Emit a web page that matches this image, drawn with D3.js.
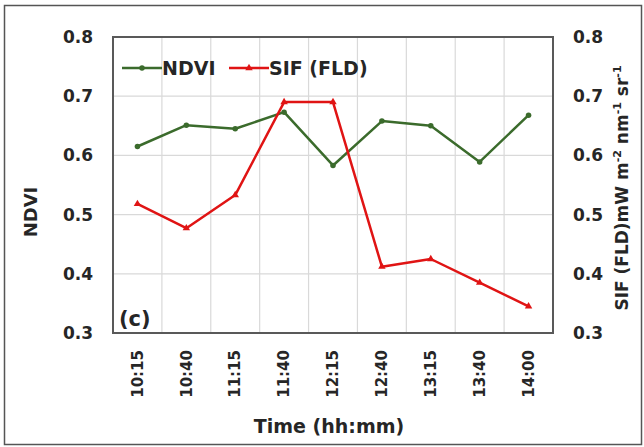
<!DOCTYPE html>
<html>
<head>
<meta charset="utf-8">
<script src="https://cdn.jsdelivr.net/npm/d3@7"></script>
<style>
  body { margin: 0; background: #fff; }
  svg { display: block; font-family: "DejaVu Sans", sans-serif; font-weight: bold; }
</style>
</head>
<body>
<div id="chart"></div>
<script>
// data
var times = ['10:15','10:40','11:15','11:40','12:15','12:40','13:15','13:40','14:00'];
var ndvi = [0.615, 0.651, 0.645, 0.673, 0.583, 0.658, 0.650, 0.589, 0.668];
var sif = [0.518, 0.477, 0.533, 0.690, 0.690, 0.412, 0.425, 0.385, 0.345];
var yTicks = [0.3, 0.4, 0.5, 0.6, 0.7, 0.8];

var w = 644, h = 447;
var m = {left: 113, right: 91, top: 37, bottom: 114};
var font = '"DejaVu Sans", sans-serif', ink = '#262626';

var svg = d3.select('#chart').append('svg').attr('width', w).attr('height', h);

// outer frame
svg.append('rect').attr('x', 4.5).attr('y', 5.5).attr('width', 637).attr('height', 439)
  .attr('fill', 'none').attr('stroke', '#555').attr('stroke-width', 1.5);

var x = d3.scaleBand().domain(times).range([m.left, w - m.right]);
var yL = d3.scaleLinear().domain([0.3, 0.8]).range([h - m.bottom, m.top]);
var yR = d3.scaleLinear().domain([0.3, 0.8]).range([h - m.bottom, m.top]);

// grid
var grid = svg.append('g').attr('stroke', '#d9d9d9').attr('stroke-width', 1.2);
grid.selectAll('.hg').data(yTicks).enter().append('line')
  .attr('x1', m.left).attr('x2', w - m.right)
  .attr('y1', function(d){ return yL(d); }).attr('y2', function(d){ return yL(d); });
grid.selectAll('.vg').data(times.slice(1)).enter().append('line')
  .attr('y1', m.top).attr('y2', h - m.bottom)
  .attr('x1', function(d){ return x(d); }).attr('x2', function(d){ return x(d); });

// plot border
svg.append('rect').attr('x', m.left).attr('y', m.top)
  .attr('width', w - m.left - m.right).attr('height', h - m.top - m.bottom)
  .attr('fill', 'none').attr('stroke', '#595959').attr('stroke-width', 2);

// axes
var axL = svg.append('g').attr('transform', 'translate(' + (m.left - 20) + ',0)')
  .call(d3.axisLeft(yL).tickValues(yTicks).tickFormat(d3.format('.1f')).tickSize(0));
var axR = svg.append('g').attr('transform', 'translate(' + (w - m.right + 20) + ',0)')
  .call(d3.axisRight(yR).tickValues(yTicks).tickFormat(d3.format('.1f')).tickSize(0));
var axB = svg.append('g').attr('transform', 'translate(0,' + (h - m.bottom + 17) + ')')
  .call(d3.axisBottom(x).tickSize(0));
[axL, axR, axB].forEach(function(a){
  a.select('.domain').remove();
  a.selectAll('text').attr('font-family', font)
    .attr('font-weight', 'bold').attr('font-size', 17).attr('fill', ink).attr('x', 0);
});
axB.selectAll('text').attr('transform', 'rotate(-90)').attr('font-size', 15)
  .attr('text-anchor', 'end').attr('x', 0).attr('y', 0).attr('dy', '0.35em');

// lines
var colNdvi = '#3b6b2c', colSif = '#e01414';
function drawSeries(vals, col, marker){
  var line = d3.line().x(function(d, i){ return x(times[i]) + x.bandwidth() / 2; })
    .y(function(d){ return yL(d); });
  svg.append('path').datum(vals).attr('d', line).attr('fill', 'none')
    .attr('stroke', col).attr('stroke-width', 2.5).attr('stroke-linejoin', 'round');
  svg.selectAll(null).data(vals).enter().append('path')
    .attr('d', d3.symbol().type(marker).size(24))
    .attr('transform', function(d, i){ return 'translate(' + (x(times[i]) + x.bandwidth() / 2) + ',' + yL(d) + ')'; })
    .attr('fill', col);
}
drawSeries(ndvi, colNdvi, d3.symbolCircle);
drawSeries(sif, colSif, d3.symbolTriangle);

// legend
var legend = [{name: 'NDVI', col: colNdvi, x: 122, marker: d3.symbolCircle},
              {name: 'SIF (FLD)', col: colSif, x: 229, marker: d3.symbolTriangle}];
var lg = svg.selectAll('.lg').data(legend).enter().append('g')
  .attr('transform', function(d){ return 'translate(' + d.x + ',68)'; });
lg.append('line').attr('x1', 0).attr('x2', 40).attr('stroke', function(d){ return d.col; }).attr('stroke-width', 2.5);
lg.append('path').attr('d', function(d){ return d3.symbol().type(d.marker).size(24)(); })
  .attr('transform', 'translate(20,0)').attr('fill', function(d){ return d.col; });
lg.append('text').attr('x', 40).attr('dy', '0.36em').attr('font-size', 19).attr('fill', ink)
  .text(function(d){ return d.name; });

// panel tag
svg.append('text').attr('x', 119).attr('y', 326).attr('font-size', 21).attr('fill', ink).text('(c)');

// axis titles
svg.append('text').attr('transform', 'translate(37,212) rotate(-90)')
  .attr('text-anchor', 'middle').attr('font-size', 18).attr('fill', ink).text('NDVI');
var rt = svg.append('text').attr('transform', 'translate(628,188) rotate(-90)')
  .attr('text-anchor', 'middle').attr('font-size', 17).attr('fill', ink);
rt.append('tspan').text('SIF (FLD)mW m');
rt.append('tspan').attr('dy', -7).attr('font-size', 11).text('-2');
rt.append('tspan').attr('dy', 7).text(' nm');
rt.append('tspan').attr('dy', -7).attr('font-size', 11).text('-1');
rt.append('tspan').attr('dy', 7).text(' sr');
rt.append('tspan').attr('dy', -7).attr('font-size', 11).text('-1');

svg.append('text').attr('x', 329).attr('y', 433)
  .attr('text-anchor', 'middle').attr('font-size', 19).attr('fill', ink).text('Time (hh:mm)');
</script>
</body>
</html>
